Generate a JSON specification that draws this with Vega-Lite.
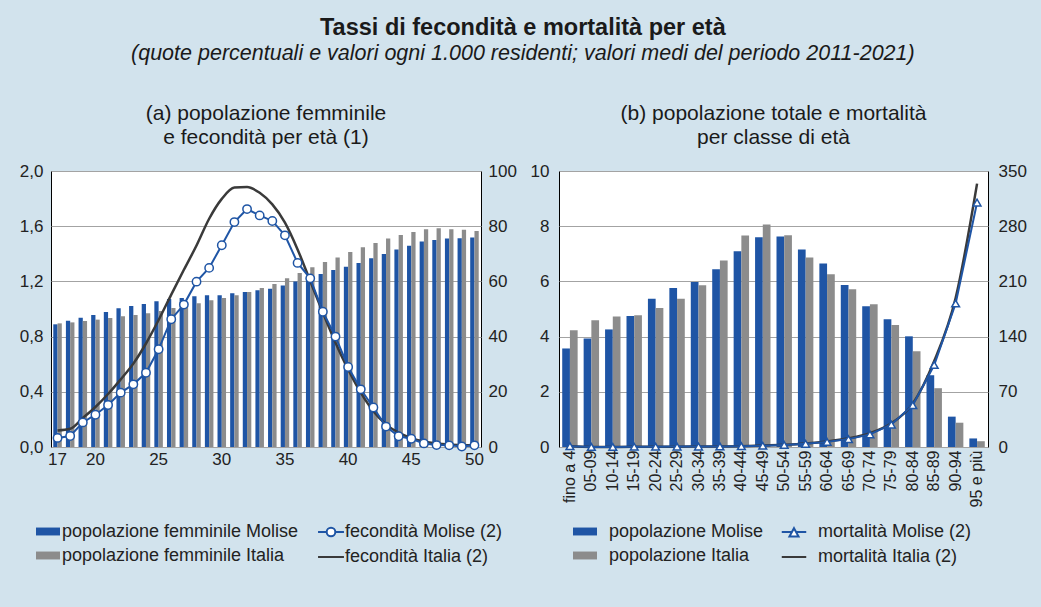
{
  "$schema": "https://vega.github.io/schema/vega-lite/v6.json",
  "background": "#d2e3ed",
  "padding": {"left": 18, "top": 15, "right": 30, "bottom": 45},
  "title": {
    "text": "Tassi di fecondità e mortalità per età",
    "subtitle": "(quote percentuali e valori ogni 1.000 residenti; valori medi del periodo 2011-2021)",
    "font": "Liberation Sans, Arial, sans-serif",
    "fontSize": 23.5,
    "fontWeight": "bold",
    "color": "#1a1a1a",
    "subtitleFont": "Liberation Sans, Arial, sans-serif",
    "subtitleFontSize": 21.5,
    "subtitleFontStyle": "italic",
    "subtitleColor": "#1a1a1a",
    "subtitlePadding": 4,
    "anchor": "middle",
    "offset": 38
  },
  "datasets": {
    "fem_pop": [
      {"eta": 17, "serie": "popolazione femminile Molise", "quota": 0.889}, {"eta": 17, "serie": "popolazione femminile Italia", "quota": 0.896},
      {"eta": 18, "serie": "popolazione femminile Molise", "quota": 0.915}, {"eta": 18, "serie": "popolazione femminile Italia", "quota": 0.903},
      {"eta": 19, "serie": "popolazione femminile Molise", "quota": 0.937}, {"eta": 19, "serie": "popolazione femminile Italia", "quota": 0.913},
      {"eta": 20, "serie": "popolazione femminile Molise", "quota": 0.957}, {"eta": 20, "serie": "popolazione femminile Italia", "quota": 0.923},
      {"eta": 21, "serie": "popolazione femminile Molise", "quota": 0.978}, {"eta": 21, "serie": "popolazione femminile Italia", "quota": 0.935},
      {"eta": 22, "serie": "popolazione femminile Molise", "quota": 1.005}, {"eta": 22, "serie": "popolazione femminile Italia", "quota": 0.947},
      {"eta": 23, "serie": "popolazione femminile Molise", "quota": 1.022}, {"eta": 23, "serie": "popolazione femminile Italia", "quota": 0.957},
      {"eta": 24, "serie": "popolazione femminile Molise", "quota": 1.036}, {"eta": 24, "serie": "popolazione femminile Italia", "quota": 0.969},
      {"eta": 25, "serie": "popolazione femminile Molise", "quota": 1.056}, {"eta": 25, "serie": "popolazione femminile Italia", "quota": 0.985},
      {"eta": 26, "serie": "popolazione femminile Molise", "quota": 1.072}, {"eta": 26, "serie": "popolazione femminile Italia", "quota": 1.007},
      {"eta": 27, "serie": "popolazione femminile Molise", "quota": 1.080}, {"eta": 27, "serie": "popolazione femminile Italia", "quota": 1.022},
      {"eta": 28, "serie": "popolazione femminile Molise", "quota": 1.092}, {"eta": 28, "serie": "popolazione femminile Italia", "quota": 1.041},
      {"eta": 29, "serie": "popolazione femminile Molise", "quota": 1.099}, {"eta": 29, "serie": "popolazione femminile Italia", "quota": 1.063},
      {"eta": 30, "serie": "popolazione femminile Molise", "quota": 1.099}, {"eta": 30, "serie": "popolazione femminile Italia", "quota": 1.080},
      {"eta": 31, "serie": "popolazione femminile Molise", "quota": 1.114}, {"eta": 31, "serie": "popolazione femminile Italia", "quota": 1.099},
      {"eta": 32, "serie": "popolazione femminile Molise", "quota": 1.123}, {"eta": 32, "serie": "popolazione femminile Italia", "quota": 1.123},
      {"eta": 33, "serie": "popolazione femminile Molise", "quota": 1.135}, {"eta": 33, "serie": "popolazione femminile Italia", "quota": 1.152},
      {"eta": 34, "serie": "popolazione femminile Molise", "quota": 1.147}, {"eta": 34, "serie": "popolazione femminile Italia", "quota": 1.181},
      {"eta": 35, "serie": "popolazione femminile Molise", "quota": 1.171}, {"eta": 35, "serie": "popolazione femminile Italia", "quota": 1.222},
      {"eta": 36, "serie": "popolazione femminile Molise", "quota": 1.200}, {"eta": 36, "serie": "popolazione femminile Italia", "quota": 1.261},
      {"eta": 37, "serie": "popolazione femminile Molise", "quota": 1.225}, {"eta": 37, "serie": "popolazione femminile Italia", "quota": 1.302},
      {"eta": 38, "serie": "popolazione femminile Molise", "quota": 1.254}, {"eta": 38, "serie": "popolazione femminile Italia", "quota": 1.341},
      {"eta": 39, "serie": "popolazione femminile Molise", "quota": 1.283}, {"eta": 39, "serie": "popolazione femminile Italia", "quota": 1.374},
      {"eta": 40, "serie": "popolazione femminile Molise", "quota": 1.307}, {"eta": 40, "serie": "popolazione femminile Italia", "quota": 1.413},
      {"eta": 41, "serie": "popolazione femminile Molise", "quota": 1.333}, {"eta": 41, "serie": "popolazione femminile Italia", "quota": 1.447},
      {"eta": 42, "serie": "popolazione femminile Molise", "quota": 1.367}, {"eta": 42, "serie": "popolazione femminile Italia", "quota": 1.478},
      {"eta": 43, "serie": "popolazione femminile Molise", "quota": 1.399}, {"eta": 43, "serie": "popolazione femminile Italia", "quota": 1.510},
      {"eta": 44, "serie": "popolazione femminile Molise", "quota": 1.432}, {"eta": 44, "serie": "popolazione femminile Italia", "quota": 1.536},
      {"eta": 45, "serie": "popolazione femminile Molise", "quota": 1.459}, {"eta": 45, "serie": "popolazione femminile Italia", "quota": 1.558},
      {"eta": 46, "serie": "popolazione femminile Molise", "quota": 1.490}, {"eta": 46, "serie": "popolazione femminile Italia", "quota": 1.577},
      {"eta": 47, "serie": "popolazione femminile Molise", "quota": 1.500}, {"eta": 47, "serie": "popolazione femminile Italia", "quota": 1.585},
      {"eta": 48, "serie": "popolazione femminile Molise", "quota": 1.510}, {"eta": 48, "serie": "popolazione femminile Italia", "quota": 1.577},
      {"eta": 49, "serie": "popolazione femminile Molise", "quota": 1.512}, {"eta": 49, "serie": "popolazione femminile Italia", "quota": 1.575},
      {"eta": 50, "serie": "popolazione femminile Molise", "quota": 1.519}, {"eta": 50, "serie": "popolazione femminile Italia", "quota": 1.565}
    ],
    "fem_fec": [
      {"eta": 17, "serie": "fecondità Molise (2)", "tasso": 3.3}, {"eta": 17, "serie": "fecondità Italia (2)", "tasso": 6.0},
      {"eta": 18, "serie": "fecondità Molise (2)", "tasso": 4.0}, {"eta": 18, "serie": "fecondità Italia (2)", "tasso": 6.6},
      {"eta": 19, "serie": "fecondità Molise (2)", "tasso": 8.9}, {"eta": 19, "serie": "fecondità Italia (2)", "tasso": 10.5},
      {"eta": 20, "serie": "fecondità Molise (2)", "tasso": 11.7}, {"eta": 20, "serie": "fecondità Italia (2)", "tasso": 14.5},
      {"eta": 21, "serie": "fecondità Molise (2)", "tasso": 15.2}, {"eta": 21, "serie": "fecondità Italia (2)", "tasso": 19.2},
      {"eta": 22, "serie": "fecondità Molise (2)", "tasso": 19.7}, {"eta": 22, "serie": "fecondità Italia (2)", "tasso": 24.5},
      {"eta": 23, "serie": "fecondità Molise (2)", "tasso": 22.7}, {"eta": 23, "serie": "fecondità Italia (2)", "tasso": 30.2},
      {"eta": 24, "serie": "fecondità Molise (2)", "tasso": 26.9}, {"eta": 24, "serie": "fecondità Italia (2)", "tasso": 37.5},
      {"eta": 25, "serie": "fecondità Molise (2)", "tasso": 35.4}, {"eta": 25, "serie": "fecondità Italia (2)", "tasso": 46.0},
      {"eta": 26, "serie": "fecondità Molise (2)", "tasso": 46.3}, {"eta": 26, "serie": "fecondità Italia (2)", "tasso": 55.2},
      {"eta": 27, "serie": "fecondità Molise (2)", "tasso": 51.6}, {"eta": 27, "serie": "fecondità Italia (2)", "tasso": 64.2},
      {"eta": 28, "serie": "fecondità Molise (2)", "tasso": 59.9}, {"eta": 28, "serie": "fecondità Italia (2)", "tasso": 73.0},
      {"eta": 29, "serie": "fecondità Molise (2)", "tasso": 64.9}, {"eta": 29, "serie": "fecondità Italia (2)", "tasso": 82.7},
      {"eta": 30, "serie": "fecondità Molise (2)", "tasso": 73.1}, {"eta": 30, "serie": "fecondità Italia (2)", "tasso": 89.9},
      {"eta": 31, "serie": "fecondità Molise (2)", "tasso": 81.5}, {"eta": 31, "serie": "fecondità Italia (2)", "tasso": 94.0},
      {"eta": 32, "serie": "fecondità Molise (2)", "tasso": 86.2}, {"eta": 32, "serie": "fecondità Italia (2)", "tasso": 94.2},
      {"eta": 33, "serie": "fecondità Molise (2)", "tasso": 83.9}, {"eta": 33, "serie": "fecondità Italia (2)", "tasso": 92.1},
      {"eta": 34, "serie": "fecondità Molise (2)", "tasso": 81.9}, {"eta": 34, "serie": "fecondità Italia (2)", "tasso": 87.9},
      {"eta": 35, "serie": "fecondità Molise (2)", "tasso": 76.7}, {"eta": 35, "serie": "fecondità Italia (2)", "tasso": 81.3},
      {"eta": 36, "serie": "fecondità Molise (2)", "tasso": 66.7}, {"eta": 36, "serie": "fecondità Italia (2)", "tasso": 71.6},
      {"eta": 37, "serie": "fecondità Molise (2)", "tasso": 61.1}, {"eta": 37, "serie": "fecondità Italia (2)", "tasso": 60.1},
      {"eta": 38, "serie": "fecondità Molise (2)", "tasso": 49.0}, {"eta": 38, "serie": "fecondità Italia (2)", "tasso": 48.7},
      {"eta": 39, "serie": "fecondità Molise (2)", "tasso": 40.0}, {"eta": 39, "serie": "fecondità Italia (2)", "tasso": 37.8},
      {"eta": 40, "serie": "fecondità Molise (2)", "tasso": 29.0}, {"eta": 40, "serie": "fecondità Italia (2)", "tasso": 28.1},
      {"eta": 41, "serie": "fecondità Molise (2)", "tasso": 20.9}, {"eta": 41, "serie": "fecondità Italia (2)", "tasso": 19.7},
      {"eta": 42, "serie": "fecondità Molise (2)", "tasso": 14.3}, {"eta": 42, "serie": "fecondità Italia (2)", "tasso": 13.0},
      {"eta": 43, "serie": "fecondità Molise (2)", "tasso": 7.4}, {"eta": 43, "serie": "fecondità Italia (2)", "tasso": 8.2},
      {"eta": 44, "serie": "fecondità Molise (2)", "tasso": 3.9}, {"eta": 44, "serie": "fecondità Italia (2)", "tasso": 5.2},
      {"eta": 45, "serie": "fecondità Molise (2)", "tasso": 3.0}, {"eta": 45, "serie": "fecondità Italia (2)", "tasso": 3.2},
      {"eta": 46, "serie": "fecondità Molise (2)", "tasso": 1.3}, {"eta": 46, "serie": "fecondità Italia (2)", "tasso": 2.0},
      {"eta": 47, "serie": "fecondità Molise (2)", "tasso": 0.7}, {"eta": 47, "serie": "fecondità Italia (2)", "tasso": 1.3},
      {"eta": 48, "serie": "fecondità Molise (2)", "tasso": 0.6}, {"eta": 48, "serie": "fecondità Italia (2)", "tasso": 0.9},
      {"eta": 49, "serie": "fecondità Molise (2)", "tasso": 0.2}, {"eta": 49, "serie": "fecondità Italia (2)", "tasso": 0.7},
      {"eta": 50, "serie": "fecondità Molise (2)", "tasso": 0.6}, {"eta": 50, "serie": "fecondità Italia (2)", "tasso": 0.6}
    ],
    "tot_pop": [
      {"classe": "fino a 4", "serie": "popolazione Molise", "quota": 3.57}, {"classe": "fino a 4", "serie": "popolazione Italia", "quota": 4.23},
      {"classe": "05-09", "serie": "popolazione Molise", "quota": 3.93}, {"classe": "05-09", "serie": "popolazione Italia", "quota": 4.59},
      {"classe": "10-14", "serie": "popolazione Molise", "quota": 4.26}, {"classe": "10-14", "serie": "popolazione Italia", "quota": 4.73},
      {"classe": "15-19", "serie": "popolazione Molise", "quota": 4.75}, {"classe": "15-19", "serie": "popolazione Italia", "quota": 4.77},
      {"classe": "20-24", "serie": "popolazione Molise", "quota": 5.37}, {"classe": "20-24", "serie": "popolazione Italia", "quota": 5.04},
      {"classe": "25-29", "serie": "popolazione Molise", "quota": 5.76}, {"classe": "25-29", "serie": "popolazione Italia", "quota": 5.37},
      {"classe": "30-34", "serie": "popolazione Molise", "quota": 5.98}, {"classe": "30-34", "serie": "popolazione Italia", "quota": 5.86},
      {"classe": "35-39", "serie": "popolazione Molise", "quota": 6.44}, {"classe": "35-39", "serie": "popolazione Italia", "quota": 6.76},
      {"classe": "40-44", "serie": "popolazione Molise", "quota": 7.09}, {"classe": "40-44", "serie": "popolazione Italia", "quota": 7.66},
      {"classe": "45-49", "serie": "popolazione Molise", "quota": 7.60}, {"classe": "45-49", "serie": "popolazione Italia", "quota": 8.06},
      {"classe": "50-54", "serie": "popolazione Molise", "quota": 7.63}, {"classe": "50-54", "serie": "popolazione Italia", "quota": 7.67},
      {"classe": "55-59", "serie": "popolazione Molise", "quota": 7.16}, {"classe": "55-59", "serie": "popolazione Italia", "quota": 6.87},
      {"classe": "60-64", "serie": "popolazione Molise", "quota": 6.65}, {"classe": "60-64", "serie": "popolazione Italia", "quota": 6.26},
      {"classe": "65-69", "serie": "popolazione Molise", "quota": 5.87}, {"classe": "65-69", "serie": "popolazione Italia", "quota": 5.72},
      {"classe": "70-74", "serie": "popolazione Molise", "quota": 5.10}, {"classe": "70-74", "serie": "popolazione Italia", "quota": 5.17},
      {"classe": "75-79", "serie": "popolazione Molise", "quota": 4.63}, {"classe": "75-79", "serie": "popolazione Italia", "quota": 4.42},
      {"classe": "80-84", "serie": "popolazione Molise", "quota": 4.01}, {"classe": "80-84", "serie": "popolazione Italia", "quota": 3.47},
      {"classe": "85-89", "serie": "popolazione Molise", "quota": 2.60}, {"classe": "85-89", "serie": "popolazione Italia", "quota": 2.13},
      {"classe": "90-94", "serie": "popolazione Molise", "quota": 1.10}, {"classe": "90-94", "serie": "popolazione Italia", "quota": 0.88},
      {"classe": "95 e più", "serie": "popolazione Molise", "quota": 0.31}, {"classe": "95 e più", "serie": "popolazione Italia", "quota": 0.21}
    ],
    "tot_mort": [
      {"classe": "fino a 4", "serie": "mortalità Molise (2)", "tasso": 1.0}, {"classe": "fino a 4", "serie": "mortalità Italia (2)", "tasso": 0.9},
      {"classe": "05-09", "serie": "mortalità Molise (2)", "tasso": 0.1}, {"classe": "05-09", "serie": "mortalità Italia (2)", "tasso": 0.1},
      {"classe": "10-14", "serie": "mortalità Molise (2)", "tasso": 0.1}, {"classe": "10-14", "serie": "mortalità Italia (2)", "tasso": 0.1},
      {"classe": "15-19", "serie": "mortalità Molise (2)", "tasso": 0.3}, {"classe": "15-19", "serie": "mortalità Italia (2)", "tasso": 0.3},
      {"classe": "20-24", "serie": "mortalità Molise (2)", "tasso": 0.4}, {"classe": "20-24", "serie": "mortalità Italia (2)", "tasso": 0.4},
      {"classe": "25-29", "serie": "mortalità Molise (2)", "tasso": 0.5}, {"classe": "25-29", "serie": "mortalità Italia (2)", "tasso": 0.4},
      {"classe": "30-34", "serie": "mortalità Molise (2)", "tasso": 0.6}, {"classe": "30-34", "serie": "mortalità Italia (2)", "tasso": 0.6},
      {"classe": "35-39", "serie": "mortalità Molise (2)", "tasso": 0.7}, {"classe": "35-39", "serie": "mortalità Italia (2)", "tasso": 0.7},
      {"classe": "40-44", "serie": "mortalità Molise (2)", "tasso": 1.0}, {"classe": "40-44", "serie": "mortalità Italia (2)", "tasso": 1.1},
      {"classe": "45-49", "serie": "mortalità Molise (2)", "tasso": 1.6}, {"classe": "45-49", "serie": "mortalità Italia (2)", "tasso": 1.8},
      {"classe": "50-54", "serie": "mortalità Molise (2)", "tasso": 2.6}, {"classe": "50-54", "serie": "mortalità Italia (2)", "tasso": 2.8},
      {"classe": "55-59", "serie": "mortalità Molise (2)", "tasso": 4.0}, {"classe": "55-59", "serie": "mortalità Italia (2)", "tasso": 4.4},
      {"classe": "60-64", "serie": "mortalità Molise (2)", "tasso": 6.5}, {"classe": "60-64", "serie": "mortalità Italia (2)", "tasso": 7.0},
      {"classe": "65-69", "serie": "mortalità Molise (2)", "tasso": 10.0}, {"classe": "65-69", "serie": "mortalità Italia (2)", "tasso": 11.0},
      {"classe": "70-74", "serie": "mortalità Molise (2)", "tasso": 16.0}, {"classe": "70-74", "serie": "mortalità Italia (2)", "tasso": 17.5},
      {"classe": "75-79", "serie": "mortalità Molise (2)", "tasso": 28.5}, {"classe": "75-79", "serie": "mortalità Italia (2)", "tasso": 30.0},
      {"classe": "80-84", "serie": "mortalità Molise (2)", "tasso": 53.0}, {"classe": "80-84", "serie": "mortalità Italia (2)", "tasso": 55.0},
      {"classe": "85-89", "serie": "mortalità Molise (2)", "tasso": 104.0}, {"classe": "85-89", "serie": "mortalità Italia (2)", "tasso": 109.0},
      {"classe": "90-94", "serie": "mortalità Molise (2)", "tasso": 182.0}, {"classe": "90-94", "serie": "mortalità Italia (2)", "tasso": 189.0},
      {"classe": "95 e più", "serie": "mortalità Molise (2)", "tasso": 310.0}, {"classe": "95 e più", "serie": "mortalità Italia (2)", "tasso": 334.0}
    ]
  },
  "hconcat": [
    {
      "width": 430,
      "height": 276,
      "title": {
        "text": ["(a) popolazione femminile", "e fecondità per età (1)"],
        "font": "Liberation Sans, Arial, sans-serif",
        "fontSize": 21,
        "fontWeight": "normal",
        "color": "#1a1a1a",
        "lineHeight": 24,
        "anchor": "middle",
        "frame": "group",
        "offset": 14
      },
      "layer": [
        {
          "data": {"name": "fem_pop"},
          "mark": {"type": "bar"},
          "encoding": {
            "x": {
              "field": "eta", "type": "ordinal",
              "scale": {"paddingInner": 0.325, "paddingOuter": 0.18},
              "axis": {"title": null, "labelAngle": 0, "labelPadding": 4, "labelOverlap": false,
                       "labelExpr": "(datum.value == 17 || datum.value % 5 == 0) ? datum.label : ''"}
            },
            "xOffset": {"field": "serie", "type": "nominal",
                        "scale": {"domain": ["popolazione femminile Molise", "popolazione femminile Italia"], "paddingInner": 0, "paddingOuter": 0}},
            "y": {
              "field": "quota", "type": "quantitative",
              "scale": {"domain": [0, 2], "nice": false},
              "axis": {"title": null, "values": [0, 0.4, 0.8, 1.2, 1.6, 2], "grid": true, "labelPadding": 8,
                       "labelExpr": "replace(format(datum.value, '.1f'), '.', ',')"}
            },
            "fill": {
              "field": "serie", "type": "nominal",
              "scale": {"domain": ["popolazione femminile Molise", "popolazione femminile Italia"], "range": ["#1f55a5", "#8c8c8c"]},
              "legend": {"orient": "none", "legendX": -15, "legendY": 348.5, "direction": "vertical", "title": null,
                         "symbolType": "M-1,-0.33H1V0.33H-1Z", "symbolSize": 576, "symbolStrokeWidth": 0,
                         "labelOffset": 2, "rowPadding": 3, "labelFontSize": 18, "labelLimit": 400}
            }
          }
        },
        {
          "data": {"name": "fem_fec"},
          "encoding": {
            "x": {"field": "eta", "type": "ordinal"},
            "y": {
              "field": "tasso", "type": "quantitative",
              "scale": {"domain": [0, 100], "nice": false},
              "axis": {"orient": "right", "title": null, "values": [0, 20, 40, 60, 80, 100], "grid": false, "labelPadding": 7}
            },
            "stroke": {
              "field": "serie", "type": "nominal",
              "scale": {"domain": ["fecondità Molise (2)", "fecondità Italia (2)"], "range": ["#1f55a5", "#3a3a3a"]},
              "legend": {"orient": "none", "legendX": 267, "legendY": 348, "direction": "vertical", "title": null,
                         "symbolSize": 576, "symbolStrokeWidth": 2, "labelOffset": 1, "rowPadding": 3,
                         "labelFontSize": 18, "labelLimit": 400,
                         "encode": {"symbols": {"update": {
                           "shape": {"signal": "datum.value == 'fecondità Molise (2)' ? 'M-1.08,0H-0.36M0.36,0H1.08M-0.36,0A0.36,0.36,0,1,1,0.36,0A0.36,0.36,0,1,1,-0.36,0Z' : 'M-1.08,0H1.08'"},
                           "fill": {"value": "#ffffff"},
                           "strokeWidth": {"value": 2}}}}}
            }
          },
          "layer": [
            {"transform": [{"filter": "datum.serie == 'fecondità Italia (2)'"}],
             "mark": {"type": "line", "interpolate": "monotone", "strokeWidth": 2.5}},
            {"transform": [{"filter": "datum.serie == 'fecondità Molise (2)'"}],
             "mark": {"type": "line", "strokeWidth": 2}},
            {"transform": [{"filter": "datum.serie == 'fecondità Molise (2)'"}],
             "mark": {"type": "point", "shape": "circle", "filled": true, "fill": "#ffffff", "size": 70, "strokeWidth": 1.5, "opacity": 1}}
          ]
        }
      ],
      "resolve": {"scale": {"y": "independent"}}
    },
    {
      "width": 429,
      "height": 276,
      "title": {
        "text": ["(b) popolazione totale e mortalità", "per classe di età"],
        "font": "Liberation Sans, Arial, sans-serif",
        "fontSize": 21,
        "fontWeight": "normal",
        "color": "#1a1a1a",
        "lineHeight": 24,
        "anchor": "middle",
        "frame": "group",
        "offset": 14
      },
      "layer": [
        {
          "data": {"name": "tot_pop"},
          "mark": {"type": "bar"},
          "encoding": {
            "x": {
              "field": "classe", "type": "ordinal",
              "scale": {"domain": ["fino a 4", "05-09", "10-14", "15-19", "20-24", "25-29", "30-34", "35-39", "40-44", "45-49", "50-54", "55-59", "60-64", "65-69", "70-74", "75-79", "80-84", "85-89", "90-94", "95 e più"],
                        "paddingInner": 0.28, "paddingOuter": 0.15},
              "axis": {"title": null, "labelAngle": -90, "labelPadding": 3, "labelOverlap": false, "labelFontSize": 16}
            },
            "xOffset": {"field": "serie", "type": "nominal",
                        "scale": {"domain": ["popolazione Molise", "popolazione Italia"], "paddingInner": 0, "paddingOuter": 0}},
            "y": {
              "field": "quota", "type": "quantitative",
              "scale": {"domain": [0, 10], "nice": false},
              "axis": {"title": null, "values": [0, 2, 4, 6, 8, 10], "grid": true, "labelPadding": 10}
            },
            "fill": {
              "field": "serie", "type": "nominal",
              "scale": {"domain": ["popolazione Molise", "popolazione Italia"], "range": ["#1f55a5", "#8c8c8c"]},
              "legend": {"orient": "none", "legendX": 14, "legendY": 348.5, "direction": "vertical", "title": null,
                         "symbolType": "M-1,-0.33H1V0.33H-1Z", "symbolSize": 576, "symbolStrokeWidth": 0,
                         "labelOffset": 12, "rowPadding": 3, "labelFontSize": 18, "labelLimit": 400}
            }
          }
        },
        {
          "data": {"name": "tot_mort"},
          "encoding": {
            "x": {"field": "classe", "type": "ordinal"},
            "y": {
              "field": "tasso", "type": "quantitative",
              "scale": {"domain": [0, 350], "nice": false},
              "axis": {"orient": "right", "title": null, "values": [0, 70, 140, 210, 280, 350], "grid": false, "labelPadding": 10}
            },
            "stroke": {
              "field": "serie", "type": "nominal",
              "scale": {"domain": ["mortalità Molise (2)", "mortalità Italia (2)"], "range": ["#1f55a5", "#3a3a3a"]},
              "legend": {"orient": "none", "legendX": 222, "legendY": 348, "direction": "vertical", "title": null,
                         "symbolSize": 576, "symbolStrokeWidth": 2, "labelOffset": 11, "rowPadding": 3,
                         "labelFontSize": 18, "labelLimit": 400,
                         "encode": {"symbols": {"update": {
                           "shape": {"signal": "datum.value == 'mortalità Molise (2)' ? 'M-1.02,0H-0.2M0.2,0H1.02M0,-0.32L0.38,0.38L-0.38,0.38Z' : 'M-1.02,0H1.02'"},
                           "fill": {"value": "#ffffff"},
                           "strokeWidth": {"value": 2}}}}}
            }
          },
          "layer": [
            {"transform": [{"filter": "datum.serie == 'mortalità Italia (2)'"}],
             "mark": {"type": "line", "interpolate": "monotone", "strokeWidth": 2.5}},
            {"transform": [{"filter": "datum.serie == 'mortalità Molise (2)'"}],
             "mark": {"type": "line", "strokeWidth": 2}},
            {"transform": [{"filter": "datum.serie == 'mortalità Molise (2)'"}],
             "mark": {"type": "point", "shape": "triangle-up", "filled": true, "fill": "#ffffff", "size": 60, "strokeWidth": 1.5, "opacity": 1}}
          ]
        }
      ],
      "resolve": {"scale": {"y": "independent"}}
    }
  ],
  "spacing": 12,
  "resolve": {
    "scale": {"fill": "independent", "stroke": "independent", "xOffset": "independent"},
    "legend": {"fill": "independent", "stroke": "independent"}
  },
  "config": {
    "font": "Liberation Sans, Arial, sans-serif",
    "view": {"stroke": "#000000", "strokeWidth": 1, "fill": "#ffffff"},
    "axis": {
      "labelFont": "Liberation Sans, Arial, sans-serif",
      "labelFontSize": 17,
      "labelColor": "#222222",
      "ticks": false,
      "domain": false,
      "gridColor": "#a3a3a3",
      "gridWidth": 1
    },
    "legend": {
      "labelFont": "Liberation Sans, Arial, sans-serif",
      "labelColor": "#222222"
    }
  }
}
